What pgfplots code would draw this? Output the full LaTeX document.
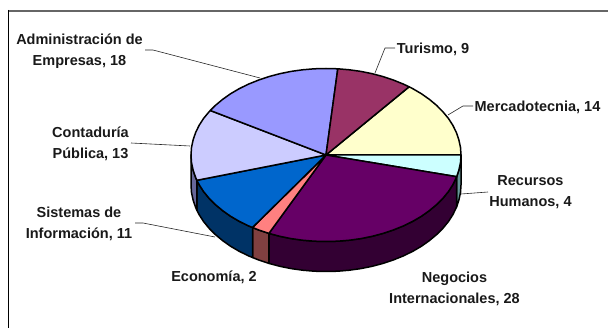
\documentclass[border=0pt]{standalone}
\usepackage{pgfplots}
\pgfplotsset{compat=1.18}
\usepackage{fontspec}
\setmainfont{Liberation Sans}
\definecolor{cAdmin}{HTML}{9999FF}
\definecolor{cTur}{HTML}{993366}
\definecolor{cMer}{HTML}{FFFFCC}
\definecolor{cRec}{HTML}{CCFFFF}
\definecolor{cNeg}{HTML}{660066}
\definecolor{cEco}{HTML}{FF8080}
\definecolor{cSis}{HTML}{0066CC}
\definecolor{cCon}{HTML}{CCCCFF}
\definecolor{sRec}{HTML}{669999}
\definecolor{sNeg}{HTML}{330033}
\definecolor{sEco}{HTML}{804040}
\definecolor{sSis}{HTML}{003366}
\definecolor{sCon}{HTML}{666699}
\tikzset{
  sl/.style={draw=black,line width=1.5pt},
  ld/.style={draw=black!85,line width=0.6pt},
  lab/.style={font=\fontsize{14.5}{20.4}\selectfont\bfseries,align=center,text=black!90,inner sep=0pt,anchor=center}}
\begin{document}
\begin{tikzpicture}[x=1pt,y=1pt]
\useasboundingbox (0,0) rectangle (608,328);
\begin{axis}[at={(0,0)},anchor=south west,width=608pt,height=328pt,scale only axis,
  xmin=0,xmax=608,ymin=0,ymax=328,y dir=reverse,hide axis,clip=true,
  every axis plot/.append style={line join=round,no markers}]
% frame
\addplot[draw=black!60,line width=2pt] coordinates {(8,11) (608,11)};
\addplot[draw=black,line width=1.5pt] coordinates {(8.7,10) (8.7,328)};
% side faces
\addplot[sl,fill=sRec] coordinates {(461,155)(460.5,162.5)(458.9,170)(456.7,176.7)(456.7,206.7)(458.9,200)(460.5,192.5)(461,185)(461,155)};
\addplot[sl,fill=sNeg] coordinates {(456.7,176.7)(452.9,184.6)(448.4,191.6)(442.9,198.3)(436.6,204.6)(429.4,210.6)(421.5,216.2)(412.8,221.3)(403.4,225.9)(393.5,229.9)(383.1,233.4)(372.2,236.3)(360.9,238.6)(349.4,240.2)(337.8,241.2)(326,241.5)(314.2,241.2)(302.6,240.2)(291.1,238.6)(279.8,236.3)(268.9,233.4)
 (268.9,263.4)(279.8,266.3)(291.1,268.6)(302.6,270.2)(314.2,271.2)(326,271.5)(337.8,271.2)(349.4,270.2)(360.9,268.6)(372.2,266.3)(383.1,263.4)(393.5,259.9)(403.4,255.9)(412.8,251.3)(421.5,246.2)(429.4,240.6)(436.6,234.6)(442.9,228.3)(448.4,221.6)(452.9,214.6)(456.7,206.7)(456.7,176.7)};
\addplot[sl,fill=sEco] coordinates {(268.9,233.4)(258.5,229.9)(252.5,227.5)(252.5,257.5)(258.5,259.9)(268.9,263.4)(268.9,233.4)};
\addplot[sl,fill=sSis] coordinates {(252.5,227.5)(248.6,225.9)(239.2,221.3)(230.5,216.2)(222.6,210.6)(215.4,204.6)(209.1,198.3)(203.6,191.6)(199.1,184.6)(196.9,180.3)(196.9,210.3)(199.1,214.6)(203.6,221.6)(209.1,228.3)(215.4,234.6)(222.6,240.6)(230.5,246.2)(239.2,251.3)(248.6,255.9)(252.5,257.5)(252.5,227.5)};
\addplot[sl,fill=sCon] coordinates {(196.9,180.3)(195.6,177.4)(193.1,170)(191.5,162.5)(191,155)(191,185)(191.5,192.5)(193.1,200)(195.6,207.4)(196.9,210.3)(196.9,180.3)};
% top faces
\addplot[sl,fill=cMer] coordinates {(326,155)(409.1,86.8)(412.8,88.7)(421.5,93.8)(429.4,99.4)(436.6,105.4)(442.9,111.8)(448.4,118.4)(452.9,125.4)(456.4,132.6)(458.9,140)(460.5,147.5)(461,155)(326,155)};
\addplot[sl,fill=cRec] coordinates {(326,155)(461,155)(460.5,162.5)(458.9,170)(456.7,176.7)(326,155)};
\addplot[sl,fill=cNeg] coordinates {(326,155)(456.7,176.7)(452.9,184.6)(448.4,191.6)(442.9,198.3)(436.6,204.6)(429.4,210.6)(421.5,216.2)(412.8,221.3)(403.4,225.9)(393.5,229.9)(383.1,233.4)(372.2,236.3)(360.9,238.6)(349.4,240.2)(337.8,241.2)(326,241.5)(314.2,241.2)(302.6,240.2)(291.1,238.6)(279.8,236.3)(268.9,233.4)(326,155)};
\addplot[sl,fill=cEco] coordinates {(326,155)(268.9,233.4)(258.5,229.9)(252.5,227.5)(326,155)};
\addplot[sl,fill=cSis] coordinates {(326,155)(252.5,227.5)(248.6,225.9)(239.2,221.3)(230.5,216.2)(222.6,210.6)(215.4,204.6)(209.1,198.3)(203.6,191.6)(199.1,184.6)(196.9,180.3)(326,155)};
\addplot[sl,fill=cCon] coordinates {(326,155)(196.9,180.3)(195.6,177.4)(193.1,170)(191.5,162.5)(191,155)(191.5,147.5)(193.1,140)(195.6,132.6)(199.1,125.4)(203.6,118.4)(209.1,111.8)(210.3,110.5)(326,155)};
\addplot[sl,fill=cAdmin] coordinates {(326,155)(210.3,110.5)(215.4,105.4)(222.6,99.4)(230.5,93.8)(239.2,88.7)(248.6,84.1)(258.5,80.1)(268.9,76.6)(279.8,73.7)(291.1,71.4)(302.6,69.8)(314.2,68.8)(326,68.5)(337.8,68.8)(326,155)};
\addplot[sl,fill=cTur] coordinates {(326,155)(337.8,68.8)(349.4,69.8)(360.9,71.4)(372.2,73.7)(383.1,76.6)(393.5,80.1)(403.4,84.1)(409.1,86.8)(326,155)};
% leader lines
\addplot[ld] coordinates {(145,50)(153,50)(260,78)};
\addplot[ld] coordinates {(131,143)(190,146)};
\addplot[ld] coordinates {(135,223)(143,223)(215,237)};
\addplot[ld] coordinates {(395,48)(385,48)(375,73)};
\addplot[ld] coordinates {(473,106)(463,106)(448,115)};
\addplot[ld] coordinates {(488,192)(461,194)};
% labels
\node[lab] at (axis cs:79.5,51) {Administración de\\Empresas, 18};
\node[lab] at (axis cs:90.5,144) {Contaduría\\Pública, 13};
\node[lab] at (axis cs:79,224) {Sistemas de\\Información, 11};
\node[lab] at (axis cs:214,277) {Economía, 2};
\node[lab] at (axis cs:433,49) {Turismo, 9};
\node[lab] at (axis cs:537.5,107) {Mercadotecnia, 14};
\node[lab] at (axis cs:530.5,192) {Recursos\\Humanos, 4};
\node[lab] at (axis cs:454.5,289) {Negocios\\Internacionales, 28};
\end{axis}
\end{tikzpicture}
\end{document}
